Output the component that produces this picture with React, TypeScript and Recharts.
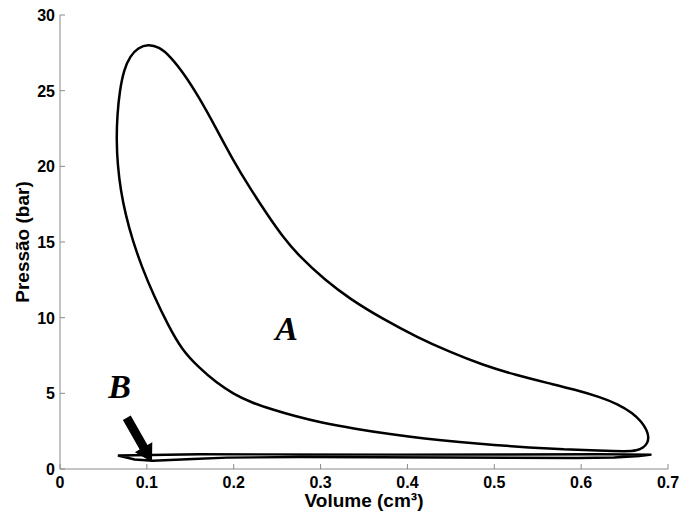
import { ComposedChart, Line, XAxis, YAxis, ReferenceDot } from "recharts";

const volumeTicks = [0, 0.1, 0.2, 0.3, 0.4, 0.5, 0.6, 0.7];
const pressureTicks = [0, 5, 10, 15, 20, 25, 30];

// ciclo A (cm³ / bar): ramo inferior para a esquerda, subida, pico, expansão e laço à direita
const volA = [
  0.62, 0.58, 0.54, 0.5, 0.46, 0.42, 0.38, 0.34, 0.3, 0.27, 0.245, 0.22, 0.2,
  0.18, 0.16, 0.1404, 0.1243, 0.1077, 0.0947, 0.0834, 0.0756, 0.0698, 0.0664,
  0.065, 0.0659, 0.0687, 0.0735, 0.0808, 0.09, 0.1013, 0.1139, 0.1266, 0.1438,
  0.1611, 0.1795, 0.1991, 0.2186, 0.2382, 0.2566, 0.2762, 0.305, 0.3337,
  0.3717, 0.4108, 0.4488, 0.4868, 0.5247, 0.5639, 0.5926, 0.6214, 0.6421,
  0.6594, 0.6697, 0.6755, 0.6778, 0.6766, 0.6715, 0.664, 0.6536,
];
const presA = [
  1.21, 1.3, 1.42, 1.58, 1.77, 2.0, 2.3, 2.65, 3.07, 3.5, 3.92, 4.4, 4.95, 5.7,
  6.7, 7.87, 9.52, 11.5, 13.28, 15.14, 16.79, 18.44, 20.09, 21.68, 23.4, 24.98,
  26.37, 27.3, 27.83, 28.07, 27.89, 27.3, 26.04, 24.46, 22.54, 20.42, 18.57,
  16.85, 15.33, 14.01, 12.49, 11.24, 9.91, 8.72, 7.73, 6.87, 6.21, 5.65, 5.25,
  4.76, 4.3, 3.7, 3.11, 2.58, 2.12, 1.72, 1.39, 1.22, 1.16,
];

// ciclo B, laço estreito junto ao eixo
const volB = [
  0.0667, 0.161, 0.391, 0.621, 0.681, 0.667, 0.638, 0.595, 0.45, 0.276, 0.192,
  0.153, 0.107, 0.086,
];
const presB = [
  0.89, 0.97, 0.95, 0.97, 0.95, 0.86, 0.76, 0.73, 0.76, 0.79, 0.75, 0.66, 0.55,
  0.63,
];

const cicloA = volA.map((v, i) => ({ v, p: presA[i] }));
const cicloB = volB.map((v, i) => ({ v, p: presB[i] }));

const sans = "'Liberation Sans', Arial, sans-serif";
const serif = "'Liberation Serif', 'Times New Roman', serif";
const axisGray = "#8a8a8a";

function XTick({ x, y, payload }: any) {
  return (
    <text x={x} y={y + 12} textAnchor="middle" fill="#000" fontSize={16} fontWeight={700} fontFamily={sans}>
      {String(payload.value)}
    </text>
  );
}

function YTick({ x, y, payload }: any) {
  return (
    <text x={x} y={y + 6} textAnchor="end" fill="#000" fontSize={16} fontWeight={700} fontFamily={sans}>
      {String(payload.value)}
    </text>
  );
}

function Letra({ cx, cy, text }: { cx?: number; cy?: number; text: string }) {
  return (
    <text
      x={cx}
      y={cy}
      textAnchor="middle"
      fontFamily={serif}
      fontStyle="italic"
      fontWeight={700}
      fontSize={34}
      fill="#000"
    >
      {text}
    </text>
  );
}

function Seta({ cx, cy }: { cx?: number; cy?: number }) {
  return (
    <polygon
      points="0,0 -17,-10 -17,-4.5 -51,-4.5 -51,4.5 -17,4.5 -17,10"
      transform={`translate(${cx},${cy}) rotate(60.4)`}
      fill="#000"
    />
  );
}

export default function App() {
  return (
    <div style={{ position: "absolute", left: 0, top: 0, background: "#fff" }}>
      <ComposedChart
        width={680}
        height={515}
        margin={{ top: 15, right: 12, bottom: 0, left: 0 }}
      >
        <XAxis
          dataKey="v"
          type="number"
          domain={[0, 0.7]}
          ticks={volumeTicks}
          height={46}
          tick={<XTick />}
          tickSize={-5}
          tickMargin={12}
          axisLine={{ stroke: axisGray }}
          tickLine={{ stroke: axisGray }}
          label={{
            value: "Volume (cm³)",
            position: "insideBottom",
            offset: 8,
            fill: "#000",
            fontSize: 19,
            fontWeight: 700,
            fontFamily: sans,
          }}
        />
        <YAxis
          type="number"
          domain={[0, 30]}
          ticks={pressureTicks}
          width={60}
          tick={<YTick />}
          tickSize={-5}
          tickMargin={10}
          axisLine={{ stroke: axisGray }}
          tickLine={{ stroke: axisGray }}
          label={{
            content: (props: any) => {
              const vb = props.viewBox || { x: 0, y: 15, height: 454 };
              const x = vb.x + 22;
              const y = vb.y + vb.height / 2;
              return (
                <text
                  x={x}
                  y={y}
                  transform={`rotate(-90, ${x}, ${y})`}
                  textAnchor="middle"
                  dominantBaseline="central"
                  fill="#000"
                  fontSize={19}
                  fontWeight={700}
                  fontFamily={sans}
                >
                  Pressão (bar)
                </text>
              );
            },
          }}
        />
        <Line
          data={cicloA}
          dataKey="p"
          type="basisClosed"
          stroke="#000"
          strokeWidth={2.5}
          dot={false}
          activeDot={false}
          isAnimationActive={false}
        />
        <Line
          data={cicloB}
          dataKey="p"
          type="linearClosed"
          stroke="#000"
          strokeWidth={2.4}
          dot={false}
          activeDot={false}
          isAnimationActive={false}
        />
        <ReferenceDot x={0.261} y={8.5} r={0} shape={(p: any) => <Letra {...p} text="A" />} />
        <ReferenceDot x={0.0685} y={4.69} r={0} shape={(p: any) => <Letra {...p} text="B" />} />
        <ReferenceDot x={0.1059} y={0.46} r={0} shape={(p: any) => <Seta {...p} />} />
      </ComposedChart>
    </div>
  );
}
